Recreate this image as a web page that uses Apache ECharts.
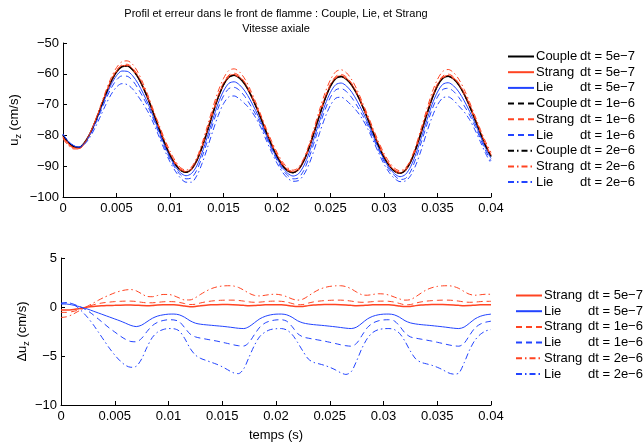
<!DOCTYPE html>
<html><head><meta charset="utf-8">
<script src="https://cdn.jsdelivr.net/npm/echarts@6/dist/echarts.min.js"></script>
<style>html,body{margin:0;padding:0;background:#fff}#c{width:643px;height:443px}</style>
</head><body><div id="c"></div>
<script>
// time samples (s)
const times = [0,0.0005,0.001,0.0015,0.002,0.0025,0.003,0.0035,0.004,0.0045,0.005,0.0055,0.006,0.0065,0.007,0.0075,0.008,0.0085,0.009,0.0095,0.01,0.0105,0.011,0.0115,0.012,0.0125,0.013,0.0135,0.014,0.0145,0.015,0.0155,0.016,0.0165,0.017,0.0175,0.018,0.0185,0.019,0.0195,0.02,0.0205,0.021,0.0215,0.022,0.0225,0.023,0.0235,0.024,0.0245,0.025,0.0255,0.026,0.0265,0.027,0.0275,0.028,0.0285,0.029,0.0295,0.03,0.0305,0.031,0.0315,0.032,0.0325,0.033,0.0335,0.034,0.0345,0.035,0.0355,0.036,0.0365,0.037,0.0375,0.038,0.0385,0.039,0.0395,0.04];

// Top panel: axial velocity u_z (cm/s)
const couple = [-80.0,-82.3,-83.6,-83.9,-82.4,-79.6,-75.7,-71.2,-66.6,-62.5,-59.4,-57.7,-57.5,-58.7,-61.1,-64.5,-68.6,-73.3,-78.0,-82.5,-86.4,-89.4,-91.4,-92.0,-91.0,-88.2,-83.8,-78.5,-72.9,-67.7,-63.6,-61.1,-60.5,-61.4,-63.4,-66.5,-70.3,-74.5,-79.0,-83.2,-86.8,-89.7,-91.5,-92.1,-91.1,-88.3,-84.0,-78.7,-73.2,-68.1,-64.0,-61.5,-60.9,-61.8,-63.8,-66.8,-70.6,-74.8,-79.2,-83.4,-87.1,-89.9,-91.7,-92.3,-91.3,-88.5,-84.1,-78.8,-73.2,-68.0,-63.9,-61.4,-60.8,-61.7,-63.7,-66.7,-70.5,-74.8,-79.2,-83.4,-86.8];
const strang5e7 = [-80.3,-82.6,-83.9,-84.1,-82.5,-79.6,-75.6,-71.1,-66.5,-62.4,-59.2,-57.5,-57.3,-58.5,-60.9,-64.4,-68.5,-73.1,-77.8,-82.3,-86.2,-89.2,-91.2,-91.9,-91.0,-88.2,-83.7,-78.3,-72.7,-67.5,-63.4,-60.9,-60.3,-61.2,-63.2,-66.4,-70.2,-74.3,-78.8,-83.0,-86.6,-89.5,-91.3,-92.0,-91.1,-88.2,-83.9,-78.5,-73.0,-67.9,-63.8,-61.3,-60.7,-61.6,-63.6,-66.7,-70.5,-74.6,-79.0,-83.2,-86.9,-89.7,-91.5,-92.2,-91.3,-88.4,-84.0,-78.6,-73.0,-67.8,-63.7,-61.2,-60.6,-61.5,-63.5,-66.6,-70.4,-74.6,-79.0,-83.2,-86.6];
const lie5e7 = [-79.7,-82.0,-83.4,-83.8,-82.5,-79.8,-76.1,-71.8,-67.4,-63.5,-60.6,-59.1,-59.2,-60.6,-63.1,-66.4,-70.1,-74.5,-78.9,-83.3,-87.1,-90.1,-92.2,-93.1,-92.4,-89.9,-85.6,-80.3,-74.8,-69.6,-65.6,-63.1,-62.6,-63.6,-65.6,-68.5,-71.9,-75.7,-80.0,-84.0,-87.5,-90.4,-92.3,-93.2,-92.5,-89.9,-85.7,-80.5,-75.1,-70.0,-66.0,-63.5,-63.0,-64.0,-66.0,-68.9,-72.3,-76.0,-80.2,-84.2,-87.8,-90.6,-92.5,-93.4,-92.7,-90.1,-85.8,-80.6,-75.1,-69.9,-65.9,-63.4,-62.9,-63.9,-65.9,-68.8,-72.2,-76.0,-80.2,-84.2,-87.5];
const strang1e6 = [-80.6,-82.9,-84.1,-84.3,-82.6,-79.6,-75.5,-70.9,-66.2,-62.0,-58.9,-57.1,-56.9,-58.1,-60.5,-64.0,-68.2,-72.9,-77.5,-82.0,-85.9,-88.9,-90.9,-91.7,-90.8,-87.9,-83.4,-78.0,-72.3,-67.0,-62.9,-60.4,-59.8,-60.7,-62.8,-66.0,-69.8,-74.0,-78.5,-82.6,-86.2,-89.1,-91.0,-91.7,-90.9,-88.1,-83.6,-78.2,-72.6,-67.5,-63.3,-60.8,-60.2,-61.1,-63.2,-66.3,-70.1,-74.3,-78.7,-82.8,-86.5,-89.3,-91.2,-91.9,-91.1,-88.3,-83.7,-78.3,-72.6,-67.4,-63.2,-60.7,-60.1,-61.0,-63.1,-66.2,-70.0,-74.3,-78.7,-82.8,-86.2];
const lie1e6 = [-79.6,-81.9,-83.3,-83.8,-82.5,-80.0,-76.5,-72.5,-68.3,-64.7,-62.0,-60.7,-60.8,-62.2,-64.7,-67.7,-71.1,-75.2,-79.6,-83.9,-87.7,-90.7,-92.9,-94.1,-93.8,-91.3,-87.0,-81.8,-76.3,-71.2,-67.2,-64.8,-64.4,-65.4,-67.4,-70.1,-73.1,-76.6,-80.6,-84.6,-88.1,-91.0,-93.0,-94.1,-93.8,-91.4,-87.2,-82.0,-76.6,-71.6,-67.6,-65.2,-64.8,-65.8,-67.8,-70.5,-73.5,-76.9,-80.9,-84.8,-88.4,-91.2,-93.1,-94.3,-94.0,-91.6,-87.3,-82.1,-76.6,-71.5,-67.5,-65.1,-64.7,-65.7,-67.7,-70.4,-73.4,-77.0,-81.0,-85.0,-88.3];
const strang2e6 = [-81.1,-83.3,-84.4,-84.4,-82.6,-79.5,-75.3,-70.5,-65.6,-61.3,-58.0,-56.1,-55.8,-56.9,-59.5,-63.2,-67.5,-72.3,-76.8,-81.2,-85.1,-88.3,-90.5,-91.3,-90.3,-87.3,-82.5,-76.9,-71.0,-65.7,-61.5,-58.9,-58.4,-59.4,-61.7,-65.1,-69.1,-73.4,-77.8,-81.9,-85.5,-88.5,-90.5,-91.3,-90.4,-87.5,-82.9,-77.2,-71.4,-66.1,-61.9,-59.3,-58.7,-59.7,-62.0,-65.3,-69.4,-73.6,-77.9,-82.1,-85.8,-88.7,-90.7,-91.5,-90.6,-87.8,-83.1,-77.4,-71.5,-66.0,-61.8,-59.2,-58.6,-59.6,-61.8,-65.1,-69.2,-73.6,-78.0,-82.1,-85.5];
const lie2e6 = [-79.7,-81.9,-83.3,-83.9,-82.9,-80.7,-77.5,-73.8,-70.0,-66.7,-64.3,-63.2,-63.5,-64.9,-67.2,-69.8,-72.7,-76.4,-80.6,-84.8,-88.6,-91.6,-93.9,-95.2,-95.2,-93.1,-89.1,-84.0,-78.6,-73.6,-69.7,-67.5,-67.2,-68.2,-69.7,-71.6,-74.2,-77.5,-81.6,-85.5,-89.0,-91.9,-93.9,-94.9,-94.7,-92.8,-89.3,-84.4,-79.0,-74.1,-70.2,-67.9,-67.6,-68.7,-70.4,-72.3,-74.8,-78.0,-81.8,-85.7,-89.3,-92.1,-94.0,-95.0,-94.8,-93.0,-89.4,-84.5,-79.0,-74.0,-70.1,-67.8,-67.5,-68.6,-70.5,-72.4,-74.9,-78.2,-82.0,-85.9,-89.1];

// Bottom panel: error Δu_z relative to Couple (cm/s)
const dStrang5e7 = [-0.30,-0.30,-0.28,-0.20,-0.10,0.00,0.06,0.10,0.13,0.15,0.17,0.19,0.20,0.20,0.18,0.15,0.14,0.16,0.20,0.22,0.23,0.22,0.18,0.10,0.03,0.05,0.13,0.19,0.22,0.24,0.25,0.25,0.24,0.21,0.17,0.14,0.15,0.19,0.22,0.24,0.24,0.23,0.18,0.10,0.04,0.06,0.14,0.20,0.23,0.25,0.25,0.25,0.24,0.21,0.17,0.14,0.15,0.19,0.22,0.24,0.24,0.23,0.18,0.10,0.04,0.06,0.14,0.20,0.23,0.25,0.25,0.25,0.24,0.21,0.17,0.14,0.15,0.19,0.22,0.24,0.24];
const dLie5e7 = [0.30,0.30,0.22,0.10,-0.05,-0.22,-0.42,-0.62,-0.82,-1.02,-1.22,-1.42,-1.65,-1.88,-2.00,-1.85,-1.50,-1.15,-0.92,-0.80,-0.73,-0.72,-0.80,-1.05,-1.40,-1.65,-1.76,-1.82,-1.87,-1.92,-1.97,-2.03,-2.10,-2.17,-2.20,-2.00,-1.60,-1.20,-0.95,-0.80,-0.73,-0.72,-0.80,-1.05,-1.40,-1.62,-1.73,-1.80,-1.85,-1.90,-1.96,-2.02,-2.09,-2.16,-2.20,-2.05,-1.65,-1.22,-0.95,-0.80,-0.73,-0.72,-0.80,-1.05,-1.40,-1.62,-1.73,-1.80,-1.85,-1.90,-1.96,-2.02,-2.09,-2.16,-2.20,-2.05,-1.65,-1.22,-0.95,-0.80,-0.73];
const dStrang1e6 = [-0.55,-0.55,-0.48,-0.35,-0.15,0.05,0.22,0.35,0.44,0.50,0.55,0.58,0.60,0.60,0.56,0.48,0.43,0.43,0.48,0.53,0.55,0.54,0.47,0.35,0.25,0.28,0.42,0.53,0.61,0.66,0.69,0.70,0.70,0.67,0.60,0.52,0.48,0.50,0.55,0.59,0.60,0.58,0.50,0.36,0.23,0.25,0.40,0.52,0.60,0.65,0.68,0.70,0.70,0.67,0.60,0.52,0.48,0.50,0.55,0.59,0.60,0.58,0.50,0.36,0.23,0.25,0.40,0.52,0.60,0.65,0.68,0.70,0.70,0.67,0.60,0.52,0.48,0.50,0.55,0.58,0.58];
const dLie1e6 = [0.40,0.42,0.35,0.15,-0.10,-0.40,-0.80,-1.25,-1.70,-2.15,-2.55,-2.95,-3.30,-3.52,-3.55,-3.20,-2.50,-1.90,-1.55,-1.38,-1.30,-1.32,-1.50,-2.10,-2.75,-3.05,-3.18,-3.28,-3.38,-3.48,-3.60,-3.72,-3.85,-3.95,-3.98,-3.60,-2.80,-2.05,-1.62,-1.42,-1.32,-1.30,-1.45,-2.00,-2.70,-3.05,-3.18,-3.28,-3.38,-3.48,-3.60,-3.72,-3.85,-3.95,-4.00,-3.70,-2.90,-2.10,-1.65,-1.42,-1.32,-1.30,-1.42,-1.95,-2.65,-3.05,-3.18,-3.28,-3.38,-3.48,-3.60,-3.72,-3.85,-3.95,-4.00,-3.70,-2.90,-2.15,-1.75,-1.55,-1.45];
const dStrang2e6 = [-1.07,-1.00,-0.80,-0.50,-0.20,0.10,0.40,0.70,0.98,1.22,1.45,1.62,1.74,1.78,1.65,1.35,1.08,1.05,1.18,1.28,1.28,1.15,0.92,0.72,0.72,0.95,1.30,1.62,1.88,2.05,2.14,2.17,2.15,2.00,1.72,1.40,1.18,1.13,1.20,1.28,1.30,1.22,1.05,0.82,0.70,0.80,1.12,1.48,1.78,1.98,2.10,2.16,2.17,2.08,1.85,1.52,1.25,1.20,1.28,1.35,1.33,1.22,1.02,0.82,0.70,0.75,1.05,1.42,1.75,1.97,2.10,2.16,2.17,2.10,1.90,1.58,1.30,1.20,1.25,1.30,1.30];
const dLie2e6 = [0.35,0.45,0.35,0.00,-0.50,-1.10,-1.80,-2.60,-3.40,-4.20,-4.90,-5.50,-5.95,-6.15,-6.05,-5.30,-4.10,-3.10,-2.55,-2.30,-2.20,-2.22,-2.45,-3.20,-4.20,-4.90,-5.25,-5.45,-5.65,-5.85,-6.10,-6.40,-6.70,-6.80,-6.30,-5.10,-3.90,-3.00,-2.55,-2.30,-2.22,-2.20,-2.35,-2.80,-3.60,-4.50,-5.30,-5.65,-5.80,-5.95,-6.15,-6.40,-6.70,-6.88,-6.60,-5.50,-4.20,-3.20,-2.60,-2.32,-2.22,-2.20,-2.30,-2.70,-3.50,-4.50,-5.30,-5.65,-5.80,-5.95,-6.15,-6.40,-6.70,-6.85,-6.75,-5.70,-4.40,-3.40,-2.80,-2.45,-2.30];

// tick labels
const xTickLabels = ['0','0.005','0.01','0.015','0.02','0.025','0.03','0.035','0.04'];
const yTopTickLabels = ['−100','−90','−80','−70','−60','−50'];
const yBotTickLabels = ['−10','−5','0','5'];

const FONT = 'Liberation Sans, Arial, Helvetica, sans-serif';
const BLACK = '#000000', RED = '#ff4422', BLUE = '#2244ff';
const SOLID = 'solid', DASH = [6, 4], DASHDOT = [6, 3, 1.5, 3];

function pts(arr) { return times.map((t, i) => [t, arr[i]]); }
function mk(name, arr, color, type, width, idx) {
  return { name, type: 'line', data: pts(arr), xAxisIndex: idx, yAxisIndex: idx,
    symbol: 'none', smooth: 0.3, animation: false,
    lineStyle: { color, type, width }, itemStyle: { color } };
}

const topSeries = [
  mk('Couple dt = 5e−7', couple, BLACK, SOLID, 1.5, 0),
  mk('Strang dt = 5e−7', strang5e7, RED, SOLID, 1.5, 0),
  mk('Lie dt = 5e−7', lie5e7, BLUE, SOLID, 1, 0),
  mk('Couple dt = 1e−6', couple, BLACK, DASH, 1, 0),
  mk('Strang dt = 1e−6', strang1e6, RED, DASH, 1, 0),
  mk('Lie dt = 1e−6', lie1e6, BLUE, DASH, 1, 0),
  mk('Couple dt = 2e−6', couple, BLACK, DASHDOT, 1, 0),
  mk('Strang dt = 2e−6', strang2e6, RED, DASHDOT, 1, 0),
  mk('Lie dt = 2e−6', lie2e6, BLUE, DASHDOT, 1, 0)
];
topSeries[0].z = 3;
const botSeries = [
  mk('Strang dt = 5e−7 ', dStrang5e7, RED, SOLID, 1.5, 1),
  mk('Lie dt = 5e−7 ', dLie5e7, BLUE, SOLID, 1, 1),
  mk('Strang dt = 1e−6 ', dStrang1e6, RED, DASH, 1, 1),
  mk('Lie dt = 1e−6 ', dLie1e6, BLUE, DASH, 1, 1),
  mk('Strang dt = 2e−6 ', dStrang2e6, RED, DASHDOT, 1, 1),
  mk('Lie dt = 2e−6 ', dLie2e6, BLUE, DASHDOT, 1, 1)
];

function tickFmt(labels, min, step) {
  return v => { const k = Math.round((v - min) / step); return labels[k] !== undefined ? labels[k] : ''; };
}
const axisCommon = {
  axisLine: { show: true, onZero: false, lineStyle: { color: '#000', width: 1 } },
  axisTick: { show: true, inside: true, length: 4, lineStyle: { color: '#000' } },
  splitLine: { show: false },
  axisLabel: { color: '#000', fontFamily: FONT, fontSize: 13 }
};
function xAx(idx, withName) {
  return Object.assign({}, axisCommon, {
    type: 'value', gridIndex: idx, min: 0, max: 0.04, interval: 0.005,
    axisLabel: Object.assign({}, axisCommon.axisLabel, { margin: 5, formatter: tickFmt(xTickLabels, 0, 0.005) }),
    name: withName ? 'temps (s)' : '', nameLocation: 'middle', nameGap: 24, nameMoveOverlap: false,
    nameTextStyle: { color: '#000', fontFamily: FONT, fontSize: 13 }
  });
}
function yAx(idx, min, max, interval, labels, nameRich, gap) {
  return Object.assign({}, axisCommon, {
    type: 'value', gridIndex: idx, min, max, interval,
    axisLabel: Object.assign({}, axisCommon.axisLabel, { margin: 4, formatter: tickFmt(labels, min, interval) }),
    name: nameRich, nameLocation: 'middle', nameGap: gap, nameRotate: 90, nameMoveOverlap: false,
    nameTextStyle: { color: '#000', fontFamily: FONT, fontSize: 13,
      rich: { sub: { fontSize: 9, fontFamily: FONT, color: '#000', padding: [8, 0, 0, 0] },
              n: { fontSize: 13, fontFamily: FONT, color: '#000' } } }
  });
}
function legendFmt(name) {
  const parts = name.trim().split(' dt ');
  return '{a|' + parts[0] + '}{b|dt ' + parts[1] + '}';
}
function legend(names, left, top) {
  return {
    data: names, orient: 'vertical', left, top, padding: 0,
    itemWidth: 26, itemHeight: 13, itemGap: 2.7,
    selectedMode: false, itemStyle: { opacity: 0, borderWidth: 0 },
    formatter: legendFmt,
    textStyle: { color: '#000', fontFamily: FONT, fontSize: 13, lineHeight: 13, padding: [0, 0, 0, -3],
      rich: { a: { width: 44, fontFamily: FONT, fontSize: 13, lineHeight: 13, color: '#000' },
              b: { fontFamily: FONT, fontSize: 13, lineHeight: 13, color: '#000' } } }
  };
}

const chart = echarts.init(document.getElementById('c'), null, { renderer: 'canvas' });
chart.setOption({
  backgroundColor: '#fff',
  animation: false,
  title: {
    text: 'Profil et erreur dans le front de flamme : Couple, Lie, et Strang\nVitesse axiale',
    left: 276, top: 6, textAlign: 'center', padding: 0,
    textStyle: { fontFamily: FONT, fontSize: 11, fontWeight: 'normal', color: '#000', lineHeight: 15 }
  },
  grid: [
    { left: 61, right: 152, top: 43, height: 154 },
    { left: 61, right: 152, top: 258, height: 154 }
  ],
  xAxis: [xAx(0, false), xAx(1, true)],
  yAxis: [
    yAx(0, -100, -50, 10, yTopTickLabels, '{n|u}{sub|z}{n| (cm/s)}', 40),
    yAx(1, -10, 5, 5, yBotTickLabels, '{n|Δu}{sub|z}{n| (cm/s)}', 30)
  ],
  legend: [
    legend(topSeries.map(s => s.name), 507, 50),
    legend(botSeries.map(s => s.name), 515, 289)
  ],
  series: topSeries.concat(botSeries)
});
</script></body></html>
